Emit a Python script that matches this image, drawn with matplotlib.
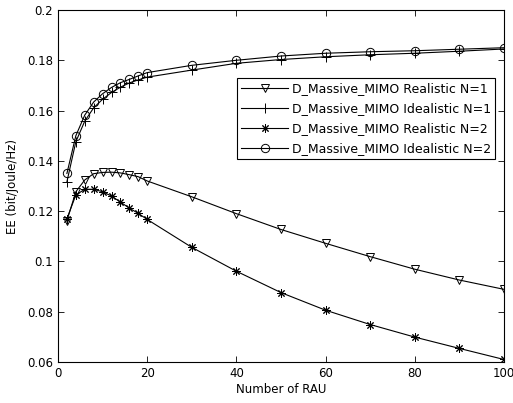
import matplotlib
matplotlib.use("Agg")
import matplotlib.pyplot as plt
from matplotlib.ticker import FuncFormatter

rau = [2, 4, 6, 8, 10, 12, 14, 16, 18, 20, 30, 40, 50, 60, 70, 80, 90, 100]

realistic_n1 = [0.1162, 0.1277, 0.1324, 0.1349, 0.1354, 0.1355, 0.1352, 0.1345, 0.1337, 0.1320,
                0.1257, 0.1190, 0.1127, 0.1072, 0.1019, 0.0969, 0.0926, 0.0889]
idealistic_n1 = [0.1317, 0.1476, 0.1558, 0.1611, 0.1645, 0.1672, 0.1693, 0.1710, 0.1722, 0.1733,
                 0.1761, 0.1788, 0.1803, 0.1814, 0.1822, 0.1828, 0.1836, 0.1845]
realistic_n2 = [0.1170, 0.1264, 0.1287, 0.1287, 0.1277, 0.1260, 0.1236, 0.1212, 0.1191, 0.1167,
                0.1056, 0.0961, 0.0876, 0.0806, 0.0749, 0.0699, 0.0654, 0.0610]
idealistic_n2 = [0.1350, 0.1500, 0.1582, 0.1634, 0.1667, 0.1692, 0.1711, 0.1724, 0.1738, 0.1751,
                 0.1780, 0.1800, 0.1817, 0.1828, 0.1834, 0.1838, 0.1844, 0.1850]

labels = ["D_Massive_MIMO Realistic N=1", "D_Massive_MIMO Idealistic N=1",
          "D_Massive_MIMO Realistic N=2", "D_Massive_MIMO Idealistic N=2"]

plt.rcParams["font.family"] = "DejaVu Sans"
fig = plt.figure(figsize=(5.13, 4.03), dpi=100)
ax = fig.add_axes([58 / 513, 1 - 362 / 403, 446 / 513, 352 / 403])

common = dict(color="black", linewidth=0.8, markerfacecolor="none", markeredgewidth=0.7)
ax.plot(rau, realistic_n1, marker="v", markersize=6, label=labels[0], **common)
ax.plot(rau, idealistic_n1, marker="+", markersize=7, label=labels[1], **common)
ax.plot(rau, realistic_n2, marker=(8, 2, 0), markersize=6, label=labels[2], **common)
ax.plot(rau, idealistic_n2, marker="o", markersize=6, label=labels[3], **common)

ax.set_xlim(0, 100)
ax.set_ylim(0.06, 0.2)
ax.set_xticks([0, 20, 40, 60, 80, 100])
ax.set_yticks([0.06, 0.08, 0.1, 0.12, 0.14, 0.16, 0.18, 0.2])
ax.yaxis.set_major_formatter(FuncFormatter(lambda v, p: "%g" % round(v, 2)))
ax.tick_params(direction="in", top=True, right=True, labelsize=8.5, length=4, width=0.6)
for s in ax.spines.values():
    s.set_linewidth(0.8)

ax.set_xlabel("Number of RAU", fontsize=8.5, labelpad=2)
ax.set_ylabel("EE (bit/Joule/Hz)", fontsize=8.5, labelpad=6)

leg = ax.legend(loc="upper right", bbox_to_anchor=(0.980, 0.807), fontsize=9, fancybox=False,
                edgecolor="black", framealpha=1, borderpad=0.35, labelspacing=0.55,
                handlelength=3.8, handletextpad=0.25, borderaxespad=0.0)
leg.get_frame().set_linewidth(0.8)

fig.savefig("out.png", dpi=100)
